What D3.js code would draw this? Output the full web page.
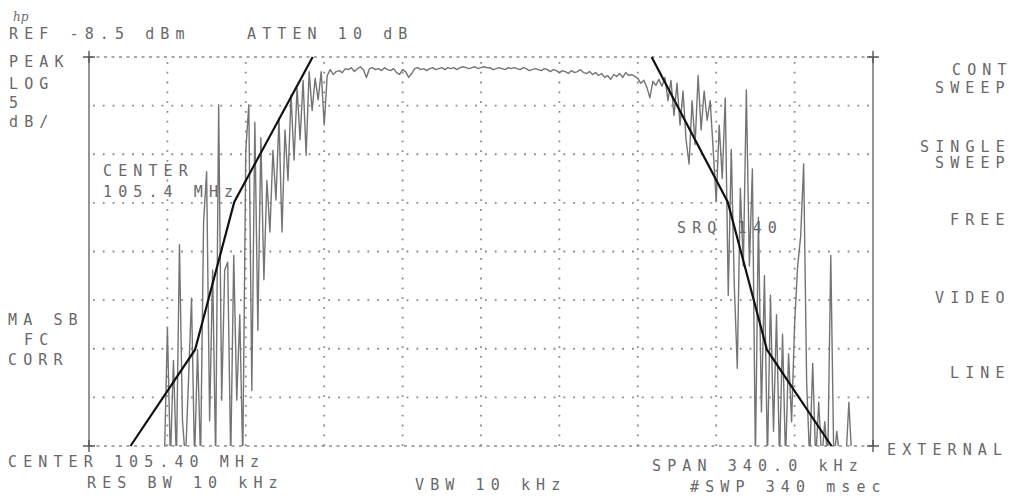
<!DOCTYPE html>
<html>
<head>
<meta charset="utf-8">
<title>Spectrum analyzer plot</title>
<style>
  body { margin: 0; background: #fff; }
  svg text { font-family: "DejaVu Sans Mono", monospace; font-size: 15px; letter-spacing: 6.1px; fill: #686868; }
</style>
<script src="https://cdn.jsdelivr.net/npm/d3@7"></script>
</head>
<body>
<div id="chart"></div>
<script>
// screen is 10 x 8 divisions: span 340 kHz around 105.4 MHz, ref -8.5 dBm at 5 dB/div
const spanKHz = [-170, 170];
const levelDbm = [-48.5, -8.5];
const xDivs = 10, yDivs = 8;

// trace levels (dBm), one per sweep point, points evenly spread over the span
// -50 means the trace is below the bottom of the screen
const traceDbm = [
  -50, -50, -50, -50, -50, -50, -50, -50, -50, -50,
  -50, -50, -50, -50, -50, -50, -50, -50, -50, -50,
  -50, -50, -50, -50, -50,
  // left skirt
  -50, -36.4, -50, -39.7, -50, -27.8, -45.9, -50, -41.7, -33.3,
  -50, -38.6, -50, -25.5, -20.3, -45.9, -30.4, -50, -13.4, -43.8,
  -30.4, -29.6, -50, -28.9, -43.8, -35.0, -50, -18.1, -13.4, -42.8,
  -15.2, -36.6, -16.8, -31.4, -21.2, -26.5, -18.1, -23.2, -14.8, -26.5,
  -16.0, -21.2, -12.4, -19.1, -11.7, -17.0, -10.9, -18.6, -10.0, -14.0,
  -10.7, -12.9, -10.0, -15.5, -10.4, -9.8,
  // flat top
  -10.3, -10.0, -9.9, -10.1, -9.7, -9.8, -9.6, -10.0, -9.7, -9.5,
  -9.8, -10.6, -9.7, -9.6, -9.8, -9.7, -9.9, -9.6, -9.8, -9.9,
  -9.7, -10.1, -10.3, -9.8, -10.0, -10.6, -10.2, -9.7, -9.6, -9.8,
  -9.7, -9.9, -9.7, -9.6, -9.8, -9.7, -9.6, -9.8, -9.6, -9.7,
  -9.6, -9.8, -9.6, -9.5, -9.6, -9.7, -9.6, -9.5, -9.7, -9.6,
  -9.5, -9.6, -9.6, -9.8, -9.7, -9.6, -9.7, -9.8, -9.6, -9.7,
  -9.6, -9.7, -9.8, -9.6, -9.7, -9.9, -9.8, -9.7, -9.8, -9.9,
  -9.7, -9.8, -10.0, -9.8, -9.9, -10.1, -9.9, -10.0, -10.2, -9.9,
  -10.1, -10.0, -9.8, -10.1, -10.2, -10.0, -10.3, -10.1, -10.4, -10.2,
  -10.6, -10.4, -10.8, -10.3, -10.5, -10.2, -10.6, -10.1, -10.4, -10.3,
  -10.5,
  // right skirt
  -10.7, -11.2, -10.9, -11.6, -12.7, -11.0, -11.4, -10.8, -11.5, -10.6,
  -13.0, -10.9, -14.5, -11.2, -15.5, -12.0, -17.0, -19.5, -13.0, -17.5,
  -10.4, -16.0, -12.0, -15.0, -13.0, -18.0, -23.4, -15.5, -21.0, -12.7,
  -33.0, -18.0, -32.0, -40.5, -22.0, -30.0, -11.9, -30.0, -20.0, -50,
  -25.0, -45.0, -31.0, -50, -33.0, -47.0, -35.0, -50, -37.0, -50,
  -39.0, -46.0, -36.0, -30.0, -27.0, -19.5, -42.0, -50, -40.0, -50,
  -44.0, -50, -46.0, -50, -28.9, -50, -47.0, -50, -50, -50,
  -44.0, -50, -50, -50, -50, -50, -50, -50, -50
];

// hand drawn limit lines
const leftMaskKHz = [-152, -124, -107, -73];
const leftMaskDbm = [-48.5, -38.6, -23.4, -8.5];
const rightMaskKHz = [74, 107, 124, 152];
const rightMaskDbm = [-8.5, -23.4, -38.6, -48.5];

// screen annotations [text, x, y]
const labels = [
  ["REF -8.5 dBm", 9, 39], ["ATTEN 10 dB", 247, 39],
  ["PEAK", 9, 67], ["LOG", 9, 89], ["5", 9, 108], ["dB/", 9, 127],
  ["CENTER", 103, 176], ["105.4 MHz", 103, 197],
  ["MA SB", 8, 325], ["FC", 24, 345], ["CORR", 8, 365],
  ["CENTER 105.40 MHz", 8, 467], ["RES BW 10 kHz", 87, 488],
  ["VBW 10 kHz", 415, 490],
  ["SPAN 340.0 kHz", 652, 471], ["#SWP 340 msec", 690, 492],
  ["SRQ 140", 677, 233],
  ["CONT", 952, 75], ["SWEEP", 935, 93],
  ["SINGLE", 920, 152], ["SWEEP", 935, 168],
  ["FREE", 950, 225], ["VIDEO", 935, 303], ["LINE", 950, 378],
  ["EXTERNAL", 887, 455]
];

const width = 1013, height = 500;

const svg = d3.select("#chart").append("svg")
  .attr("width", width)
  .attr("height", height);

const x = d3.scaleLinear().domain(spanKHz).range([89, 873]);
const y = d3.scaleLinear().domain(levelDbm).range([446, 57]);

const grid = svg.append("g").attr("stroke", "#8a8a8a");

// interior dotted graticule
const xStep = (spanKHz[1] - spanKHz[0]) / xDivs;
const yStep = (levelDbm[1] - levelDbm[0]) / yDivs;
grid.selectAll(".vgrid")
  .data(d3.range(1, xDivs).map(i => spanKHz[0] + i * xStep))
  .enter().append("line")
  .attr("x1", d => x(d)).attr("x2", d => x(d))
  .attr("y1", y(levelDbm[1]) + 5).attr("y2", y(levelDbm[0]))
  .attr("stroke-width", 1.8)
  .attr("stroke-dasharray", "1.8,8");
grid.selectAll(".hgrid")
  .data(d3.range(1, yDivs).map(i => levelDbm[0] + i * yStep))
  .enter().append("line")
  .attr("x1", x(spanKHz[0]) + 4).attr("x2", x(spanKHz[1]))
  .attr("y1", d => y(d)).attr("y2", d => y(d))
  .attr("stroke-width", 1.8)
  .attr("stroke-dasharray", "1.8,8");

// top and bottom edges dashed, side edges solid
grid.selectAll(".hedge")
  .data(levelDbm)
  .enter().append("line")
  .attr("x1", x(spanKHz[0])).attr("x2", x(spanKHz[1]))
  .attr("y1", d => y(d)).attr("y2", d => y(d))
  .attr("stroke-width", 1.5)
  .attr("stroke-dasharray", "3,4.5");
grid.selectAll(".vedge")
  .data(spanKHz)
  .enter().append("line")
  .attr("x1", d => x(d)).attr("x2", d => x(d))
  .attr("y1", y(levelDbm[1])).attr("y2", y(levelDbm[0]))
  .attr("stroke", "#7a7a7a")
  .attr("stroke-width", 1.6);

// corner crosses
const corners = [];
spanKHz.forEach(f => levelDbm.forEach(l => corners.push([f, l])));
grid.selectAll(".corner")
  .data(corners)
  .enter().append("path")
  .attr("d", d => `M${x(d[0]) - 6},${y(d[1])}h12M${x(d[0])},${y(d[1]) - 6}v12`)
  .attr("stroke", "#555")
  .attr("stroke-width", 1.4);

// trace
svg.append("clipPath").attr("id", "screen")
  .append("rect")
  .attr("x", x(spanKHz[0])).attr("y", y(levelDbm[1]) - 8)
  .attr("width", x(spanKHz[1]) - x(spanKHz[0]))
  .attr("height", y(levelDbm[0]) - y(levelDbm[1]) + 8);

const pointKHz = i => spanKHz[0] + i * (spanKHz[1] - spanKHz[0]) / (traceDbm.length - 1);
const traceLine = d3.line()
  .x((d, i) => x(pointKHz(i)))
  .y(d => y(d));

svg.append("path")
  .datum(traceDbm)
  .attr("clip-path", "url(#screen)")
  .attr("fill", "none")
  .attr("stroke", "#747474")
  .attr("stroke-width", 1.4)
  .attr("stroke-linejoin", "round")
  .attr("d", traceLine);

// limit lines
const maskLine = d3.line()
  .x(d => x(d[0]))
  .y(d => y(d[1]));
[[leftMaskKHz, leftMaskDbm], [rightMaskKHz, rightMaskDbm]].forEach(m => {
  svg.append("path")
    .datum(m[0].map((f, i) => [f, m[1][i]]))
    .attr("fill", "none")
    .attr("stroke", "#111")
    .attr("stroke-width", 2.2)
    .attr("d", maskLine);
});

// annotations
svg.selectAll(".label")
  .data(labels)
  .enter().append("text")
  .attr("x", d => d[1])
  .attr("y", d => d[2])
  .text(d => d[0]);

// hp mark
svg.append("text")
  .attr("x", 13).attr("y", 21)
  .style("font-family", "DejaVu Serif")
  .style("font-style", "italic")
  .style("font-size", "12px")
  .style("letter-spacing", "0px")
  .text("hp");
</script>
</body>
</html>
